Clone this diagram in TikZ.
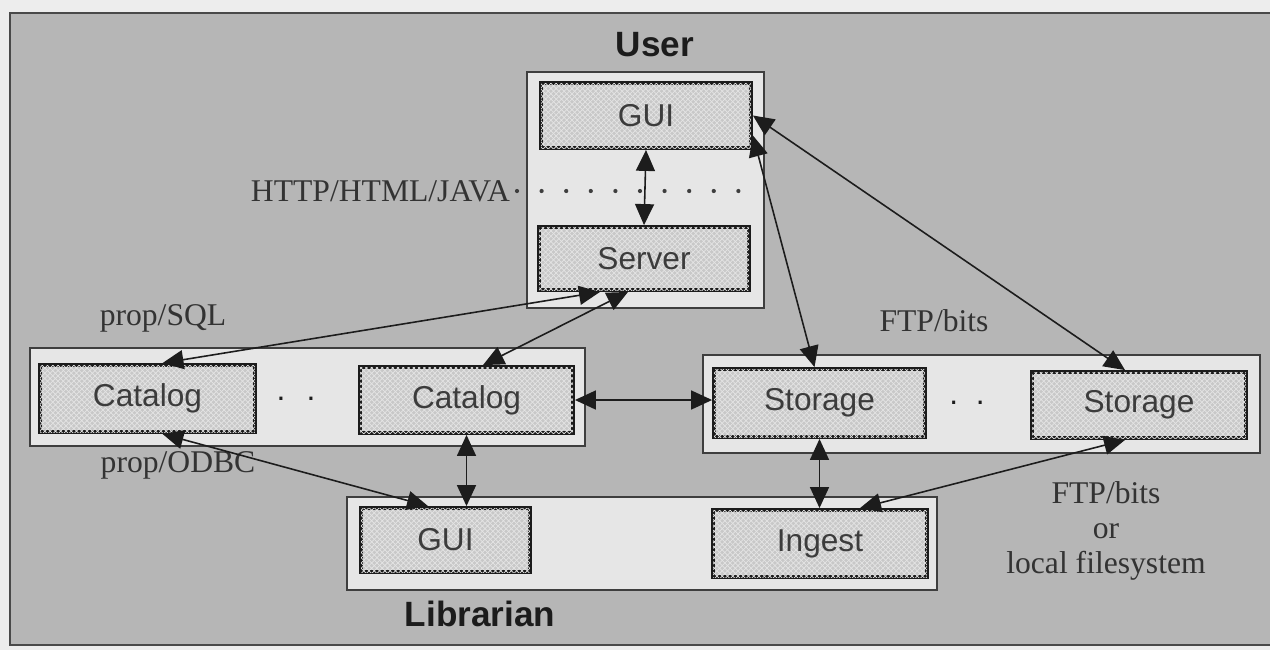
\documentclass[tikz,border=0pt]{standalone}
\usepackage{fontspec}
\setmainfont{Liberation Serif}
\newfontfamily\arialf{Liberation Sans}
\usetikzlibrary{arrows.meta,patterns}
\definecolor{outbg}{HTML}{EDEDED}
\definecolor{bggray}{HTML}{B6B6B6}
\definecolor{contgray}{HTML}{E6E6E6}
\definecolor{boxgray}{HTML}{C8C8C8}
\definecolor{hatchgray}{HTML}{E4E4E4}
\definecolor{inkdark}{HTML}{1C1C1C}
\definecolor{boxtext}{HTML}{3C3C3C}
\tikzset{
  container/.style={draw=inkdark!85, line width=1pt, fill=contgray, inner sep=0pt},
  unitbox/.style={draw=inkdark, line width=2.2pt, fill=boxgray,
    postaction={pattern=crosshatch, pattern color=hatchgray},
    inner sep=0pt, font=\arialf\fontsize{18}{21}\selectfont, text=boxtext},
  lbl/.style={font=\fontsize{18}{20}\selectfont, text=inkdark!90, inner sep=1pt},
  role/.style={font=\arialf\bfseries\fontsize{20}{24}\selectfont, text=inkdark},
  link/.style={line width=0.9pt, draw=inkdark, {Triangle[length=0.42cm,width=0.38cm]}-{Triangle[length=0.42cm,width=0.38cm]}},
  ellip/.style={font=\arialf\fontsize{18}{21}\selectfont, text=inkdark, inner sep=0pt}
}
\begin{document}
\begin{tikzpicture}[x=0.02cm,y=-0.02cm]
\useasboundingbox (0,0) rectangle (1270,650);
\fill[outbg] (0,0) rectangle (1270,650);
\draw[fill=bggray, line width=1.4pt, draw=inkdark!80] (10,13) rectangle (1290,645);

% containers
\node[container, minimum width=4.74cm, minimum height=4.72cm] (usercont) at (645.5,190) {};
\node[container, minimum width=11.1cm, minimum height=1.96cm] (catcont) at (307.5,397) {};
\node[container, minimum width=11.14cm, minimum height=1.96cm] (stocont) at (981.5,404) {};
\node[container, minimum width=11.8cm, minimum height=1.86cm] (libcont) at (642,543.5) {};

% unit boxes
\node[unitbox, minimum width=4.2cm, minimum height=1.3cm] (ugui) at (646,115.5) {GUI};
\node[unitbox, minimum width=4.2cm, minimum height=1.26cm] (server) at (644,258.5) {Server};
\node[unitbox, minimum width=4.3cm, minimum height=1.34cm] (cat1) at (147.5,398.5) {Catalog};
\node[unitbox, minimum width=4.26cm, minimum height=1.32cm] (cat2) at (466.5,400) {Catalog};
\node[unitbox, minimum width=4.22cm, minimum height=1.36cm] (sto1) at (819.5,403) {Storage};
\node[unitbox, minimum width=4.28cm, minimum height=1.32cm] (sto2) at (1139,405) {Storage};
\node[unitbox, minimum width=3.38cm, minimum height=1.28cm] (lgui) at (445.5,540) {GUI};
\node[unitbox, minimum width=4.28cm, minimum height=1.34cm] (ingest) at (820,543.5) {Ingest};

% ellipses
\node[ellip] (dots1) at (296,399) {.\hspace{12pt}.};
\node[ellip] (dots2) at (967,403) {.\hspace{10pt}.};

% labels
\node[role] (user) at (655,45) {User};
\node[role] (librarian) at (480,614) {Librarian};
\node[lbl, anchor=east] (http) at (512,191) {HTTP/HTML/JAVA};
\node[lbl] (propsql) at (163,318) {prop/SQL};
\node[lbl] (ftp1) at (934,321) {FTP/bits};
\node[lbl] (propodbc) at (178,465) {prop/ODBC};
\node[lbl, align=center] (ftp2) at (1106,531) {FTP/bits\\or\\local filesystem};

% dotted protocol line
\draw[line width=2.4pt, dash pattern=on 0pt off 14pt, line cap=round, draw=inkdark!85]
  ([xshift=0.1cm]http.east) -- ([xshift=-0.1cm]http.east -| usercont.east);

% connectors
\draw[link] (ugui.south) -- (server.north);
\draw[link] ([xshift=-0.88cm]server.south) -- ([xshift=0.3cm]cat1.north);
\draw[link] ([xshift=-0.32cm]server.south) -- ([xshift=0.33cm]cat2.north);
\draw[link] ([yshift=-0.4cm]ugui.east) -- ([xshift=-0.1cm]sto1.north);
\draw[link] (ugui.east) -- ([xshift=-0.28cm]sto2.north);
\draw[link] (cat2.east) -- (cat2.east -| sto1.west);
\draw[link] ([xshift=0.3cm]cat1.south) -- ([xshift=-0.35cm]lgui.north);
\draw[link] (cat2.south) -- (cat2.south |- lgui.north);
\draw[link] (sto1.south) -- (sto1.south |- ingest.north);
\draw[link] ([xshift=-0.28cm]sto2.south) -- ([xshift=0.8cm]ingest.north);
\end{tikzpicture}
\end{document}
